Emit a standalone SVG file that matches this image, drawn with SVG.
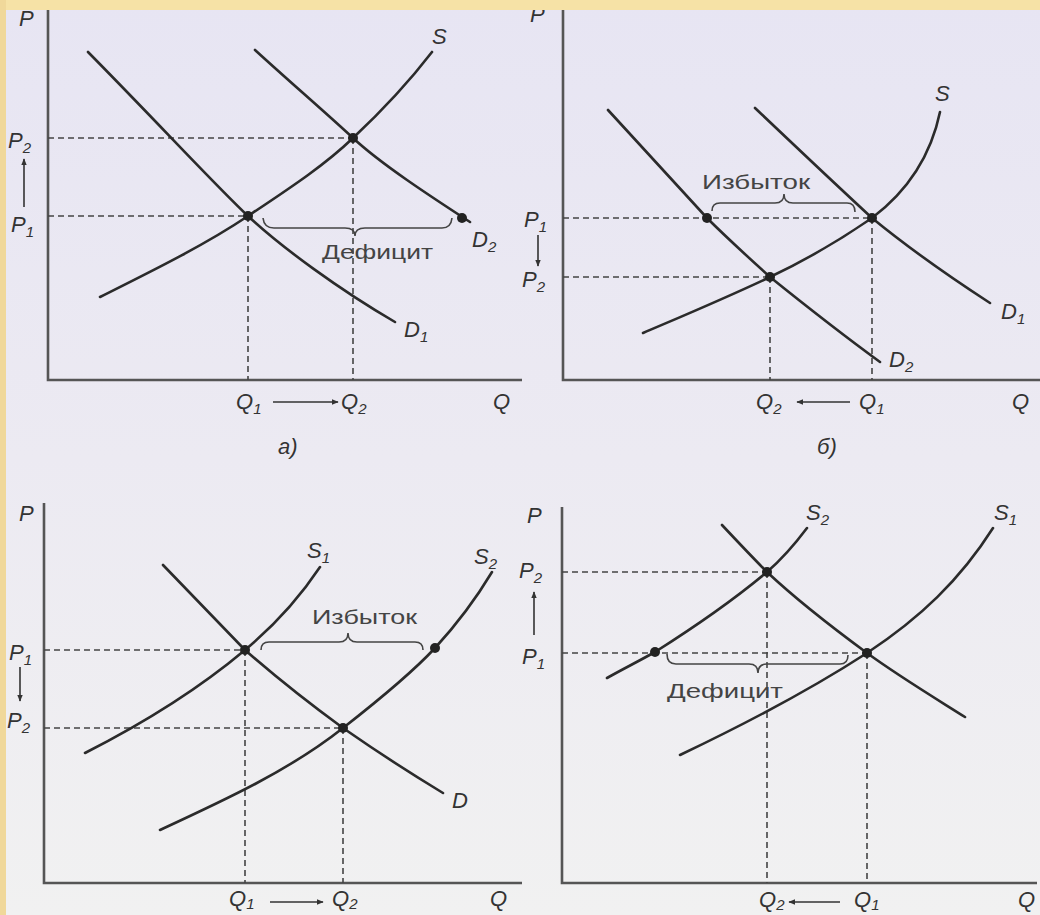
<svg xmlns="http://www.w3.org/2000/svg" width="1040" height="915" viewBox="0 0 1040 915">
<defs>
<linearGradient id="bg" x1="0" y1="0" x2="0" y2="1">
<stop offset="0" stop-color="#e7e5f3"/>
<stop offset="0.5" stop-color="#eceaf2"/>
<stop offset="1" stop-color="#f1f1f1"/>
</linearGradient>
<marker id="ah" viewBox="0 0 10 10" refX="9" refY="5" markerWidth="7" markerHeight="7" orient="auto" markerUnits="userSpaceOnUse">
<path d="M0,1 L10,5 L0,9 Z" fill="#333"/>
</marker>
<style>
.ax{fill:none;stroke:#555;stroke-width:2.6}
.cv{fill:none;stroke:#2b2b2b;stroke-width:2.6;stroke-linecap:round}
.ds{fill:none;stroke:#444;stroke-width:1.6;stroke-dasharray:6,4}
.br{fill:none;stroke:#444;stroke-width:1.6}
.ar{fill:none;stroke:#333;stroke-width:1.6;marker-end:url(#ah)}
.dot{fill:#222}
.lb{font-family:"Liberation Sans",Arial,sans-serif;font-style:italic;font-size:22px;fill:#333}
.sb{font-size:15px}
.tx{font-family:"Liberation Sans",Arial,sans-serif;font-size:21px;fill:#444}
</style>
</defs>
<rect width="1040" height="915" fill="url(#bg)"/>

<g id="panel-a">
<path class="ax" d="M48,10 V380 H522"/>
<path class="ds" d="M48,138 H353 M48,216 H248 M248,216 V380 M353,138 V380"/>
<path class="cv" d="M88,52 C160,125 215,185 248,216 S340,290 395,322"/>
<path class="cv" d="M255,50 C290,82 325,112 353,138 S430,196 470,222"/>
<path class="cv" d="M100,297 C150,272 205,245 248,216 C290,188 325,165 353,138 C385,108 412,78 432,52"/>
<path class="br" d="M263,218 Q264,228 274,228 H345 Q355,228 355,236 Q355,228 365,228 H442 Q451,228 452,218"/>
<circle class="dot" cx="248" cy="216" r="5"/>
<circle class="dot" cx="353" cy="138" r="5"/>
<circle class="dot" cx="462" cy="218" r="5"/>
<path class="ar" d="M24,207 V159"/>
<path class="ar" d="M273,402 H338"/>
<text class="lb" x="19" y="26">P</text>
<text class="lb" x="8" y="148">P<tspan class="sb" dy="5">2</tspan></text>
<text class="lb" x="11" y="232">P<tspan class="sb" dy="5">1</tspan></text>
<text class="lb" x="432" y="44">S</text>
<text class="lb" x="472" y="247">D<tspan class="sb" dy="5">2</tspan></text>
<text class="lb" x="404" y="337">D<tspan class="sb" dy="5">1</tspan></text>
<text class="tx" x="322" y="259" textLength="111" lengthAdjust="spacingAndGlyphs">Дефицит</text>
<text class="lb" x="236" y="409">Q<tspan class="sb" dy="5">1</tspan></text>
<text class="lb" x="341" y="409">Q<tspan class="sb" dy="5">2</tspan></text>
<text class="lb" x="493" y="409">Q</text>
<text class="lb" x="278" y="454">а)</text>
</g>

<g id="panel-b">
<path class="ax" d="M563,10 V380 H1040"/>
<path class="ds" d="M563,218 H872 M563,277 H770 M770,277 V380 M872,218 V380"/>
<path class="cv" d="M608,110 C641,146 674,182 707,218 C728,239 749,258 770,277 C806,306 843,335 880,362"/>
<path class="cv" d="M755,108 C794,145 833,182 872,218 C911,250 950,277 990,303"/>
<path class="cv" d="M643,333 C685,315 728,297 770,277 C806,260 840,240 872,218 C905,193 930,160 940,112"/>
<path class="br" d="M712,211 Q712,203 720,203 H775 Q784,203 784,194 Q784,203 793,203 H847 Q855,203 855,212"/>
<circle class="dot" cx="872" cy="218" r="5"/>
<circle class="dot" cx="770" cy="277" r="5"/>
<circle class="dot" cx="707" cy="218" r="5"/>
<path class="ar" d="M538,235 V266"/>
<path class="ar" d="M850,402 H797"/>
<text class="lb" x="530" y="22">P</text>
<text class="lb" x="524" y="227">P<tspan class="sb" dy="5">1</tspan></text>
<text class="lb" x="522" y="287">P<tspan class="sb" dy="5">2</tspan></text>
<text class="lb" x="935" y="101">S</text>
<text class="lb" x="1001" y="319">D<tspan class="sb" dy="5">1</tspan></text>
<text class="lb" x="889" y="367">D<tspan class="sb" dy="5">2</tspan></text>
<text class="tx" x="702" y="189" textLength="108" lengthAdjust="spacingAndGlyphs">Избыток</text>
<text class="lb" x="756" y="409">Q<tspan class="sb" dy="5">2</tspan></text>
<text class="lb" x="859" y="409">Q<tspan class="sb" dy="5">1</tspan></text>
<text class="lb" x="1012" y="409">Q</text>
<text class="lb" x="817" y="454">б)</text>
</g>

<g id="panel-c">
<path class="ax" d="M44,503 V883 H522"/>
<path class="ds" d="M44,650 H245 M44,728 H343 M245,650 V883 M343,728 V883"/>
<path class="cv" d="M163,565 C190,593 218,622 245,650 C277,678 310,704 343,728 C376,751 410,773 443,793"/>
<path class="cv" d="M85,753 C140,725 195,692 245,650 C275,625 300,597 320,567"/>
<path class="cv" d="M160,830 C225,800 290,770 343,728 C375,703 410,675 435,648 C457,624 477,597 492,572"/>
<path class="br" d="M261,650 Q261,642 269,642 H339 Q348,642 348,633 Q348,642 357,642 H415 Q423,642 423,650"/>
<circle class="dot" cx="245" cy="650" r="5"/>
<circle class="dot" cx="343" cy="728" r="5"/>
<circle class="dot" cx="435" cy="648" r="5"/>
<path class="ar" d="M20,667 V701"/>
<path class="ar" d="M270,902 H323"/>
<text class="lb" x="19" y="521">P</text>
<text class="lb" x="9" y="660">P<tspan class="sb" dy="5">1</tspan></text>
<text class="lb" x="7" y="728">P<tspan class="sb" dy="5">2</tspan></text>
<text class="lb" x="307" y="558">S<tspan class="sb" dy="5">1</tspan></text>
<text class="lb" x="474" y="564">S<tspan class="sb" dy="5">2</tspan></text>
<text class="lb" x="452" y="808">D</text>
<text class="tx" x="312" y="624" textLength="105" lengthAdjust="spacingAndGlyphs">Избыток</text>
<text class="lb" x="229" y="906">Q<tspan class="sb" dy="3">1</tspan></text>
<text class="lb" x="332" y="906">Q<tspan class="sb" dy="3">2</tspan></text>
<text class="lb" x="490" y="906">Q</text>
</g>

<g id="panel-d">
<path class="ax" d="M562,507 V883 H1037"/>
<path class="ds" d="M562,572 H767 M562,653 H867 M767,572 V883 M867,653 V883"/>
<path class="cv" d="M722,525 C737,541 752,557 767,572 C800,603 833,628 867,653 C900,677 935,698 965,717"/>
<path class="cv" d="M607,678 C623,669 639,661 655,652 C693,628 730,603 767,572 C782,559 795,544 807,528"/>
<path class="cv" d="M680,755 C745,724 810,690 867,653 C920,618 960,580 993,528"/>
<path class="br" d="M667,654 Q667,664 676,664 H749 Q758,664 758,673 Q758,664 767,664 H840 Q848,664 848,655"/>
<circle class="dot" cx="767" cy="572" r="5"/>
<circle class="dot" cx="867" cy="653" r="5"/>
<circle class="dot" cx="655" cy="652" r="5"/>
<path class="ar" d="M534,635 V592"/>
<path class="ar" d="M840,902 H789"/>
<text class="lb" x="527" y="523">P</text>
<text class="lb" x="519" y="578">P<tspan class="sb" dy="5">2</tspan></text>
<text class="lb" x="522" y="664">P<tspan class="sb" dy="5">1</tspan></text>
<text class="lb" x="806" y="520">S<tspan class="sb" dy="5">2</tspan></text>
<text class="lb" x="994" y="520">S<tspan class="sb" dy="5">1</tspan></text>
<text class="tx" x="667" y="698" textLength="116" lengthAdjust="spacingAndGlyphs">Дефицит</text>
<text class="lb" x="759" y="907">Q<tspan class="sb" dy="3">2</tspan></text>
<text class="lb" x="854" y="907">Q<tspan class="sb" dy="3">1</tspan></text>
<text class="lb" x="1018" y="907">Q</text>
</g>

<rect x="0" y="0" width="1040" height="10" fill="#f6e2a6"/>
<rect x="0" y="0" width="6" height="915" fill="#f0d89a"/>
</svg>
